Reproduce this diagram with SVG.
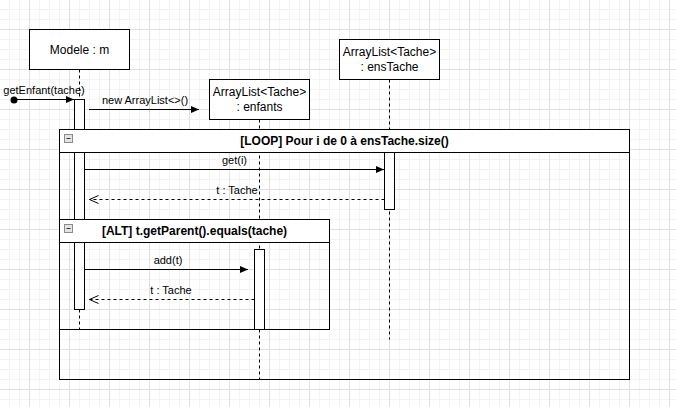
<svg xmlns="http://www.w3.org/2000/svg" width="676" height="407" viewBox="0 0 676 407">
<style>
.box{fill:#fff;stroke:#000;stroke-width:1}
.life{stroke:#000;stroke-width:1;stroke-dasharray:3 3;fill:none}
.act{fill:#fff;stroke:#000;stroke-width:1}
.msg{stroke:#000;stroke-width:1;fill:none}
.ret{stroke:#000;stroke-width:1;fill:none;stroke-dasharray:3 3}
.lbl{font-family:"Liberation Sans",Arial,sans-serif;font-size:11px;fill:#000}
.node{font-family:"Liberation Sans",Arial,sans-serif;font-size:12px;fill:#000}
.hdr{font-family:"Liberation Sans",Arial,sans-serif;font-size:12px;font-weight:bold;fill:#000}
.frame{fill:none;stroke:#000;stroke-width:1}
.fhead{fill:#fff;stroke:#000;stroke-width:1}
.minus{fill:#e4e4e4;stroke:#8a8a8a;stroke-width:1}
</style>
<defs>
<pattern id="grid" x="29" y="29" width="40" height="40" patternUnits="userSpaceOnUse">
<path d="M10.5 0V40M20.5 0V40M30.5 0V40M0 10.5H40M0 20.5H40M0 30.5H40" stroke="#f3f3f3" stroke-width="1" fill="none"/>
<path d="M0.5 0V40M0 0.5H40" stroke="#e0e0e0" stroke-width="1" fill="none"/>
</pattern>
<marker id="fill" markerWidth="8" markerHeight="8" refX="8" refY="4" orient="auto" markerUnits="userSpaceOnUse">
<path d="M0,0.5 L8,4 L0,7.5 Z" fill="#000"/>
</marker>
<marker id="open" markerWidth="11" markerHeight="10" refX="10" refY="5" orient="auto" markerUnits="userSpaceOnUse">
<path d="M1,1 L10,5 L1,9" fill="none" stroke="#000" stroke-width="1"/>
</marker>
</defs>
<rect width="676" height="407" fill="#fff"/>
<rect width="676" height="407" fill="url(#grid)"/>

<g id="lifelines">
<path class="life" d="M79.5 69.5V99.5M79.5 309.5V329.5"/>
<path class="life" d="M259.5 119.5V379.5"/>
<path class="life" d="M389.5 79.5V339.5"/>
</g>

<g id="node-modele">
<rect class="box" x="29.5" y="29.5" width="100" height="40"/>
<text class="node" x="79.5" y="53.5" text-anchor="middle">Modele : m</text>
</g>
<g id="node-enfants">
<rect class="box" x="209.5" y="79.5" width="100" height="40"/>
<text class="node" x="259.5" y="96" text-anchor="middle">ArrayList&lt;Tache&gt;</text>
<text class="node" x="259.5" y="111" text-anchor="middle">: enfants</text>
</g>
<g id="node-ensTache">
<rect class="box" x="339.5" y="39.5" width="100" height="40"/>
<text class="node" x="389.5" y="56" text-anchor="middle">ArrayList&lt;Tache&gt;</text>
<text class="node" x="389.5" y="71" text-anchor="middle">: ensTache</text>
</g>

<g id="act-modele"><rect class="act" x="74.5" y="99.5" width="10" height="210"/></g>

<g id="frame-loop">
<rect class="frame" x="59.5" y="129.5" width="570" height="250"/>
<rect class="fhead" x="59.5" y="129.5" width="570" height="23"/>
<rect class="minus" x="64.5" y="134.5" width="8" height="8"/>
<path d="M66.5 138.5H70.5" stroke="#333" stroke-width="1"/>
<text class="hdr" x="344.5" y="145" text-anchor="middle">[LOOP] Pour i de 0 à ensTache.size()</text>
</g>

<g id="act-ensTache"><rect class="act" x="384.5" y="152.5" width="10" height="57"/></g>

<g id="frame-alt">
<rect class="frame" x="59.5" y="219.5" width="270" height="110"/>
<rect class="fhead" x="59.5" y="219.5" width="270" height="23"/>
<rect class="minus" x="64.5" y="224.5" width="8" height="8"/>
<path d="M66.5 228.5H70.5" stroke="#333" stroke-width="1"/>
<text class="hdr" x="194.5" y="235" text-anchor="middle">[ALT] t.getParent().equals(tache)</text>
</g>

<g id="act-enfants"><rect class="act" x="254.5" y="249.5" width="10" height="80"/></g>

<g id="connectors">
<circle cx="14" cy="100" r="3.5" fill="#000"/>
<path class="msg" d="M14 99.5H74" marker-end="url(#fill)"/>
<path class="msg" d="M89 109.5H199" marker-end="url(#fill)"/>
<path class="msg" d="M84.5 169.5H384" marker-end="url(#fill)"/>
<path class="ret" d="M384.5 199.5H89.5" marker-end="url(#open)"/>
<path class="msg" d="M84.5 269.5H248" marker-end="url(#fill)"/>
<path class="ret" d="M254.5 299.5H89.5" marker-end="url(#open)"/>
</g>

<g id="labels">
<text class="lbl" x="44" y="94" text-anchor="middle">getEnfant(tache)</text>
<text class="lbl" x="145" y="104" text-anchor="middle">new ArrayList&lt;&gt;()</text>
<text class="lbl" x="234.5" y="164" text-anchor="middle">get(i)</text>
<text class="lbl" x="237" y="194" text-anchor="middle">t : Tache</text>
<text class="lbl" x="168" y="264" text-anchor="middle">add(t)</text>
<text class="lbl" x="171" y="294" text-anchor="middle">t : Tache</text>
</g>
</svg>
